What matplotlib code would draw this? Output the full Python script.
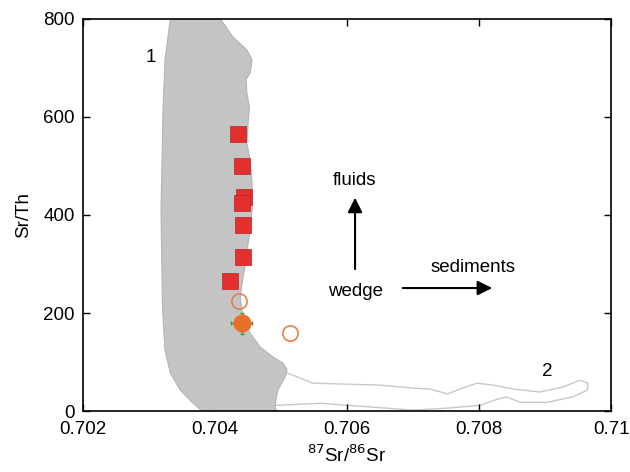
import numpy as np
import matplotlib
matplotlib.use('Agg')
import matplotlib.pyplot as plt

plt.rcParams['font.family'] = ['Liberation Sans', 'DejaVu Sans']

# field 1 (grey area), traced clockwise from the top left
field1_x = [0.70332, 0.70324, 0.70321, 0.70318, 0.70320, 0.70321, 0.70324, 0.70332,
            0.70347, 0.70362, 0.70380, 0.70494, 0.70491, 0.70492, 0.70495, 0.70506,
            0.70509, 0.70503, 0.70488, 0.70468, 0.70453, 0.70442, 0.70438, 0.70441,
            0.70445, 0.70450, 0.70453, 0.70456, 0.70456, 0.70453, 0.70448, 0.70450,
            0.70452, 0.70448, 0.70447, 0.70453, 0.70456, 0.70448, 0.70427, 0.70408]
field1_y = [800, 716, 614, 410, 227, 192, 124, 78,
            43, 22, 0, 0, 6, 22, 43, 69,
            84, 98, 110, 131, 159, 192, 233, 261,
            294, 343, 369, 410, 465, 512, 547, 588,
            620, 649, 676, 690, 716, 737, 763, 800]

# field 2 (outline only)
field2_x = [0.70509, 0.70548, 0.70600, 0.70650, 0.70700, 0.70726, 0.70752, 0.70771,
            0.70797, 0.70821, 0.70852, 0.70892, 0.70927, 0.70953, 0.70965, 0.70964,
            0.70942, 0.70903, 0.70862, 0.70842, 0.70827, 0.70802, 0.70752, 0.70700,
            0.70559, 0.70433]
field2_y = [78, 57, 55, 53, 47, 45, 35, 45,
            57, 53, 45, 39, 49, 63, 57, 43,
            29, 18, 18, 29, 24, 12, 6, 2,
            16, 8]

# samples
sq_x = [0.70435, 0.70441, 0.70444, 0.70440, 0.70442, 0.70442, 0.70423]
sq_y = [565, 500, 437, 425, 379, 314, 265]
open_x = [0.70436, 0.70514]
open_y = [224, 160]
fill_x = [0.70440]
fill_y = [179]

fig = plt.figure(figsize=(6.3, 4.72), dpi=100)
ax = fig.add_axes([0.132, 0.129, 0.838, 0.831])

ax.fill(field2_x, field2_y, facecolor='none', edgecolor='#c8c8c8', lw=1.0,
        joinstyle='round', zorder=1)
ax.fill(field1_x, field1_y, facecolor='#c4c4c4', edgecolor='#b4b4b4', lw=0.8,
        joinstyle='round', zorder=2)

ax.plot(sq_x, sq_y, 's', ms=11.5, color='#e2302e', mec='#c02020', mew=0.5, zorder=5)
ax.plot(open_x, open_y, 'o', ms=11, mfc='none', mec='#e8804a', mew=1.2, zorder=5)
ax.errorbar(fill_x, fill_y, xerr=0.000155, yerr=21, fmt='none', ecolor='#3a9a3a',
            elinewidth=1, capsize=1.5, zorder=4)
ax.plot(fill_x, fill_y, 'o', ms=12, color='#e8702a', mec='#e8702a', zorder=6)

# arrows and labels
arrow = dict(arrowstyle='-|>', color='black', lw=1.5, mutation_scale=22)
ax.annotate('', xy=(0.70612, 441), xytext=(0.70612, 284), arrowprops=arrow)
ax.annotate('', xy=(0.70824, 251), xytext=(0.70680, 251), arrowprops=arrow)
ax.text(0.70611, 471, 'fluids', ha='center', va='center', fontsize=13.5)
ax.text(0.70612, 243, 'wedge', ha='center', va='center', fontsize=13.5)
ax.text(0.70791, 292, 'sediments', ha='center', va='center', fontsize=13.5)
ax.text(0.70302, 722, '1', ha='center', va='center', fontsize=13.5)
ax.text(0.70903, 80, '2', ha='center', va='center', fontsize=13.5)

ax.set_xlim(0.702, 0.710)
ax.set_ylim(0, 800)
ax.set_xticks([0.702, 0.704, 0.706, 0.708, 0.710])
ax.set_xticklabels(['0.702', '0.704', '0.706', '0.708', '0.71'])
ax.set_yticks([0, 200, 400, 600, 800])
ax.tick_params(direction='in', top=True, right=True, length=5, width=1,
               labelsize=13.5)
ax.tick_params(axis='x', pad=7)
ax.tick_params(axis='y', pad=6)
for s in ax.spines.values():
    s.set_linewidth(1.2)

ax.set_xlabel(r'$^{87}$Sr/$^{86}$Sr', fontsize=13.5, labelpad=5)
ax.set_ylabel('Sr/Th', fontsize=13.5, labelpad=8)

fig.savefig('out.png', dpi=100)
